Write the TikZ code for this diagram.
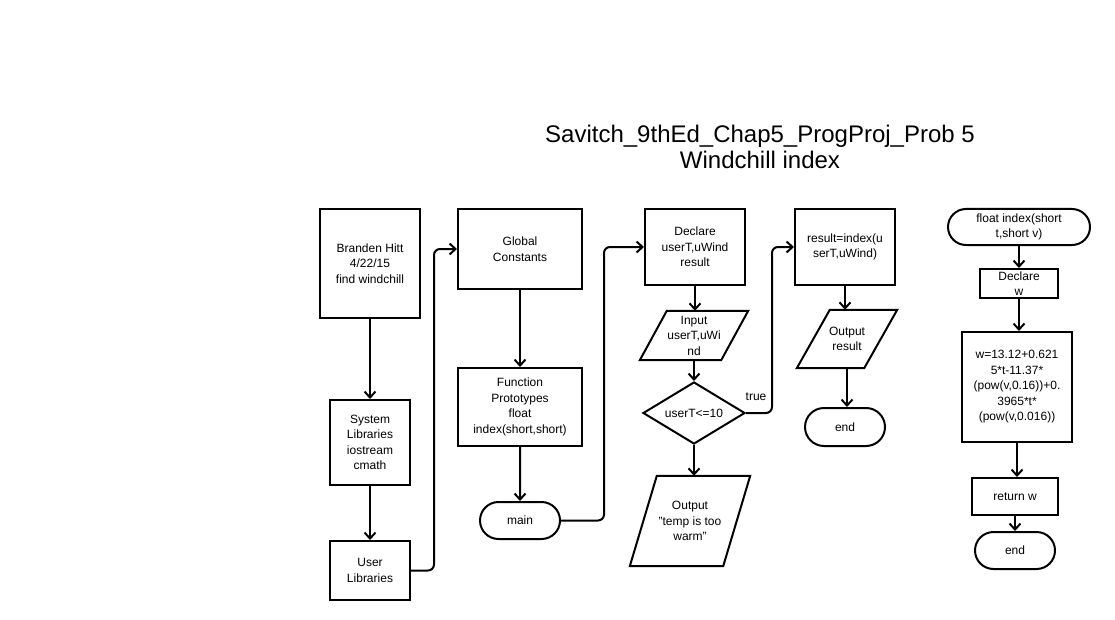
\documentclass[tikz,border=0pt]{standalone}
\usepackage{fontspec}
\setmainfont{Liberation Sans}
\usetikzlibrary{arrows.meta,shapes.geometric,shapes.misc}
\begin{document}
\begin{tikzpicture}[x=1pt,y=-1pt,
  every node/.style={font=\fontsize{12}{15.5}\selectfont, align=center, inner sep=0pt},
  line/.style={line width=2pt},
  box/.style={line, draw, rectangle},
  term/.style={line, draw, rounded rectangle},
  io/.style={rectangle},
  dec/.style={line, draw, diamond},
  arr/.style={line, -{Straight Barb[length=6pt,width=11pt,line width=2pt]}},
  conn/.style={arr, rounded corners=6pt}]
\useasboundingbox[fill=white] (0,0) rectangle (1115,620);

% title
\node[font=\fontsize{24}{26}\selectfont] (title) at (760,147)
  {Savitch\_9thEd\_Chap5\_ProgProj\_Prob 5\\Windchill index};

% column 1: header and libraries
\node[box, minimum width=100pt, minimum height=109pt] (brand) at (370,263.5)
  {Branden Hitt\\4/22/15\\find windchill};
\node[box, minimum width=80pt, minimum height=85pt] (sys) at (370,442.5)
  {System\\Libraries\\iostream\\cmath};
\node[box, minimum width=80pt, minimum height=59pt] (user) at (370,570.5)
  {User\\Libraries};

% column 2: constants, prototypes, main
\node[box, minimum width=124pt, minimum height=80pt] (glob) at (520,249)
  {Global\\Constants};
\node[box, minimum width=124pt, minimum height=78pt] (proto) at (520,407)
  {Function\\Prototypes\\float\\index(short,short)};
\node[term, minimum width=80pt, minimum height=37pt] (main) at (520,520.5) {main};

% column 3: input and test
\node[box, minimum width=100pt, minimum height=76pt] (decl) at (695,247)
  {Declare\\userT,uWind\\result};
\node[io, minimum width=108pt, minimum height=49pt] (inp) at (694,335.5)
  {Input\\userT,uWi\\nd};
\draw[line] ([xshift=27pt]inp.north west) -- (inp.north east)
  -- ([xshift=-27pt]inp.south east) -- (inp.south west) -- cycle;
\node[dec, shape aspect=1.65, minimum width=102pt, minimum height=62pt] (test) at (694,413)
  {userT<=10};
\node[io, minimum width=120pt, minimum height=90pt] (warm) at (690,521)
  {Output\\"temp is too\\warm"};
\draw[line] ([xshift=27pt]warm.north west) -- (warm.north east)
  -- ([xshift=-27pt]warm.south east) -- (warm.south west) -- cycle;

% column 4: compute and print
\node[box, minimum width=100pt, minimum height=76pt] (res) at (845,247)
  {result=index(u\\serT,uWind)};
\node[io, minimum width=100pt, minimum height=58pt] (outres) at (847,339)
  {Output\\result};
\draw[line] ([xshift=33pt]outres.north west) -- (outres.north east)
  -- ([xshift=-33pt]outres.south east) -- (outres.south west) -- cycle;
\node[term, minimum width=80pt, minimum height=38pt] (end1) at (845,427) {end};

% column 5: the index function
\node[term, minimum width=142pt, minimum height=36pt] (fn) at (1019,227)
  {float index(short\\t,short v)};
\node[box, minimum width=78pt, minimum height=29pt] (declw) at (1019,283.5)
  {Declare\\w};
\node[box, minimum width=110pt, minimum height=110pt] (calc) at (1017,387)
  {w=13.12+0.621\\5*t-11.37*\\(pow(v,0.16))+0.\\3965*t*\\(pow(v,0.016))};
\node[box, minimum width=86pt, minimum height=37pt] (ret) at (1015,496.5) {return w};
\node[term, minimum width=80pt, minimum height=37pt] (end2) at (1015,550.5) {end};

% connectors
\draw[arr] (brand) -- (sys);
\draw[arr] (sys) -- (user);
\draw[conn] (user.east) -- ++(23,0) |- (glob.west);
\draw[arr] (glob) -- (proto);
\draw[arr] (proto) -- (main);
\draw[conn] (main.east) -- ++(43,0) |- (decl.west);
\draw[arr] (decl.south) -- (decl.south |- inp.north);
\draw[arr] (inp) -- (test);
\draw[arr] (test.south) -- (test.south |- warm.north);
\draw[conn] (test.east) -- ++(26,0) |- (res.west);
\node (truelbl) at ([xshift=10pt,yshift=16pt]test.east) {true};
\draw[arr] (res.south) -- (res.south |- outres.north);
\draw[arr] (outres.south) -- (outres.south |- end1.north);
\draw[arr] (fn) -- (declw);
\draw[arr] (declw) -- (declw.south |- calc.north);
\draw[arr] (calc.south) -- (calc.south |- ret.north);
\draw[arr] (ret) -- (end2);
\end{tikzpicture}
\end{document}
